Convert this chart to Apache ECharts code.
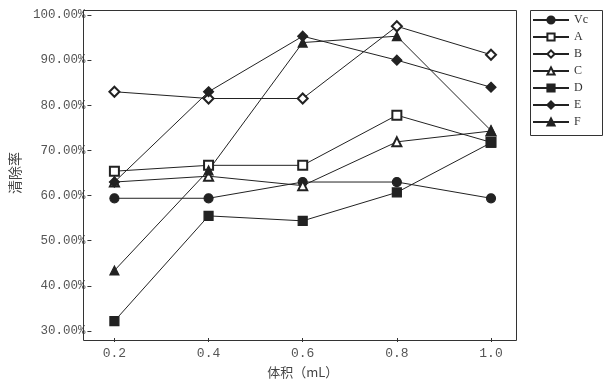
<!DOCTYPE html>
<html><head><meta charset="utf-8">
<script src="https://cdn.jsdelivr.net/npm/echarts@6/dist/echarts.min.js"></script>
<style>html,body{margin:0;padding:0;background:#fff}#c{width:603px;height:387px}</style>
</head><body><div id="c"></div>
<script>
const volumes = [0.2, 0.4, 0.6, 0.8, 1.0];
const seriesNames = ['Vc', 'A', 'B', 'C', 'D', 'E', 'F'];
const vcVals = [59.4, 59.4, 63.0, 63.0, 59.4];
const aVals  = [65.4, 66.7, 66.7, 77.8, 71.8];
const bVals  = [83.0, 81.5, 81.5, 97.5, 91.2];
const cVals  = [63.0, 64.3, 62.2, 71.9, 74.3];
const dVals  = [32.2, 55.5, 54.4, 60.7, 71.7];
const eVals  = [63.0, 83.0, 95.3, 90.0, 84.0];
const fVals  = [43.4, 65.6, 93.9, 95.3, 74.4];
const yTicks = [30, 40, 50, 60, 70, 80, 90, 100];

const allVals = [vcVals, aVals, bVals, cVals, dVals, eVals, fVals];
const symbols = ['circle', 'emptyRect', 'emptyDiamond', 'emptyTriangle', 'rect', 'diamond', 'triangle'];
const sizes = [9, 9, 10, 9, 9, 10, 9];
const font = '"Liberation Mono", monospace';

const chart = echarts.init(document.getElementById('c'), null, {renderer: 'canvas'});
chart.setOption({
  animation: false,
  backgroundColor: '#fff',
  grid: {left: 104, right: 112, top: 15, bottom: 56},
  xAxis: {
    type: 'value', min: 0.2, max: 1.0, interval: 0.2, offset: 7,
    name: '体积（mL）', nameLocation: 'middle', nameGap: 28,
    nameTextStyle: {fontFamily: '"Noto Sans CJK SC", sans-serif', fontSize: 13, color: '#444'},
    axisLine: {show: false},
    axisTick: {show: true, length: 4, inside: false, lineStyle: {color: '#333'}},
    splitLine: {show: false},
    axisLabel: {margin: 9, fontFamily: font, fontSize: 13, color: '#555',
      formatter: v => v.toFixed(1)}
  },
  yAxis: {
    type: 'value', min: yTicks[0], max: yTicks[yTicks.length - 1], interval: 10, offset: 23,
    name: '清除率', nameLocation: 'middle', nameGap: 62, nameRotate: 90,
    nameTextStyle: {fontFamily: '"Noto Sans CJK SC", sans-serif', fontSize: 14, color: '#444'},
    axisLine: {show: false},
    axisTick: {show: true, length: 4, lineStyle: {color: '#333'}},
    splitLine: {show: false},
    axisLabel: {margin: 6, fontFamily: font, fontSize: 12.5, color: '#555',
      formatter: v => v.toFixed(2) + '%'}
  },
  legend: {
    left: 528, top: 8, orient: 'vertical',
    padding: [6, 4, 6, 4], itemWidth: 36, itemHeight: 9, itemGap: 5,
    textStyle: {fontFamily: '"Liberation Serif", serif', fontSize: 12, color: '#333'},
    data: seriesNames
  },
  graphic: [
    {type: 'rect', left: 81, top: 8, shape: {width: 433, height: 330},
      style: {fill: 'none', stroke: '#333', lineWidth: 1}, z: 100, silent: true},
    {type: 'rect', left: 528, top: 8, shape: {width: 72, height: 125},
      style: {fill: 'none', stroke: '#333', lineWidth: 1}, z: 100, silent: true}
  ],
  series: seriesNames.map((n, i) => ({
    name: n, type: 'line',
    data: volumes.map((x, j) => [x, allVals[i][j]]),
    symbol: symbols[i], symbolSize: sizes[i],
    lineStyle: {color: '#222', width: 1},
    itemStyle: {color: '#222', borderColor: '#222', borderWidth: 1.2},
    emphasis: {disabled: true}
  }))
});
</script></body></html>
